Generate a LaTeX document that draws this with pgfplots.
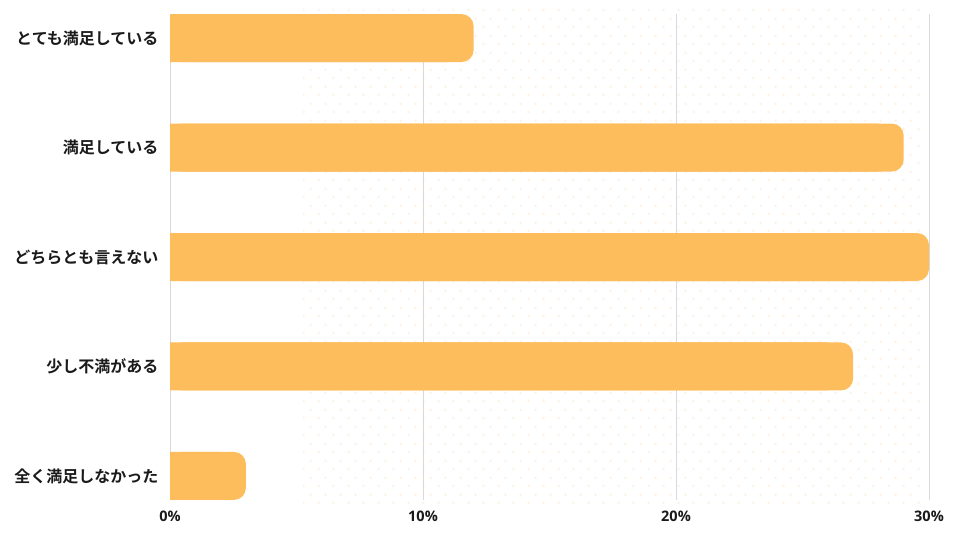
\documentclass[border=0pt]{standalone}
\usepackage{pgfplots}
\pgfplotsset{compat=1.18}
\usepackage{fontspec}
\setmainfont{Noto Sans CJK JP}[BoldFont={Noto Sans CJK JP Bold}]
\newfontfamily\numfont{Open Sans}[BoldFont={* Bold}]
\usetikzlibrary{patterns.meta}
\definecolor{barorange}{HTML}{FDBD5C}
\definecolor{gridgray}{HTML}{D9D9D9}
\definecolor{dotcol}{HTML}{FFF2E4}
\definecolor{txt}{HTML}{1A1A1A}
\tikzdeclarepattern{
  name=bgdots,
  type=uncolored,
  bounding box={(0pt,0pt) and (15pt,16.6pt)},
  tile size={(15pt,16.6pt)},
  code={
    \pgfpathcircle{\pgfpoint{3.75pt}{4.15pt}}{1.5pt}
    \pgfpathcircle{\pgfpoint{11.25pt}{12.45pt}}{1.5pt}
    \pgfusepath{fill}
  }
}
\begin{document}
\begin{tikzpicture}
\useasboundingbox (0pt,0pt) rectangle (960pt,540pt);
\fill[pattern={bgdots}, pattern color=dotcol] (303pt,33pt) rectangle (922pt,535pt);
\begin{axis}[
  at={(170pt,40pt)}, anchor=south west,
  scale only axis,
  width=759pt, height=486pt,
  xbar, bar width=48pt, bar shift=0pt,
  xmin=0, xmax=30,
  ymin=-0.22, ymax=4.22,
  y dir=reverse,
  axis line style={draw=none},
  xtick={0,10,20,30},
  xticklabels={0\%,10\%,20\%,30\%},
  ytick={0,1,2,3,4},
  yticklabels={とても満足している,満足している,どちらとも言えない,少し不満がある,全く満足しなかった},
  major tick length=0pt,
  xmajorgrids,
  grid style={gridgray, line width=0.9pt},
  yticklabel style={font=\bfseries\fontsize{16}{18}\selectfont, text=txt, xshift=-8pt},
  xticklabel style={font=\numfont\bfseries\fontsize{14.5}{16}\selectfont, text=txt, yshift=-7pt},
  /pgf/number format/assume math mode=true,
  clip=false,
]
\addplot[fill=barorange, draw=none, rounded corners=12pt] coordinates {(12,0) (29,1) (30,2) (27,3) (3,4)};
\addplot[fill=barorange, draw=none] coordinates {(11,0) (28,1) (29,2) (26,3) (2,4)};
\end{axis}
\end{tikzpicture}
\end{document}
